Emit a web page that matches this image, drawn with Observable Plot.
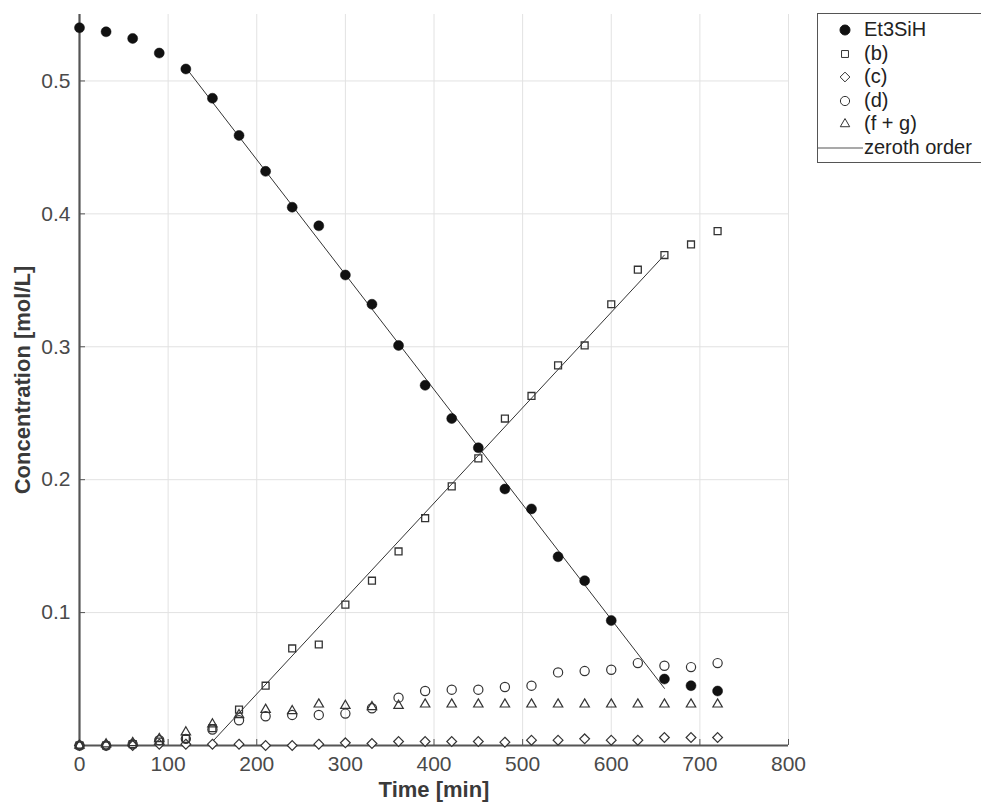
<!DOCTYPE html>
<html><head><meta charset="utf-8">
<script src="https://cdn.jsdelivr.net/npm/d3@7"></script>
<script src="https://cdn.jsdelivr.net/npm/@observablehq/plot@0.6"></script>
<style>
body{margin:0;background:#fff;}
#wrap{position:relative;width:981px;height:803px;overflow:hidden;font-family:"Liberation Sans",Arial,Helvetica,sans-serif;}
#legend{position:absolute;left:817px;top:13px;width:200px;height:150px;border:1px solid #555;background:#fff;box-sizing:border-box;padding-top:4px;}
.li{position:relative;height:23.5px;line-height:23.5px;font-size:20px;color:#222;white-space:nowrap;}
.li svg{position:absolute;left:0;top:0;}
.li span{position:absolute;left:46px;top:0;}
</style></head>
<body><div id="wrap"><div id="legend"></div></div>
<script>
// --- data ---
const time   = [0,30,60,90,120,150,180,210,240,270,300,330,360,390,420,450,480,510,540,570,600,630,660,690,720];
const et3sih = [0.540,0.537,0.532,0.521,0.509,0.487,0.459,0.432,0.405,0.391,0.354,0.332,0.301,0.271,0.246,0.224,0.193,0.178,0.142,0.124,0.094,null,0.050,0.045,0.041];
const seriesB = [0,0,0.001,0.003,0.005,0.013,0.027,0.045,0.073,0.076,0.106,0.124,0.146,0.171,0.195,0.216,0.246,0.263,0.286,0.301,0.332,0.358,0.369,0.377,0.387];
const seriesC = [0,0,0,0.001,0.001,0.001,0.001,0,0,0.001,0.002,0.0015,0.003,0.003,0.003,0.003,0.0025,0.004,0.004,0.005,0.004,0.004,0.006,0.006,0.006];
const seriesD = [0,0,0.001,0.004,0.005,0.012,0.019,0.022,0.023,0.023,0.024,0.028,0.036,0.041,0.042,0.042,0.044,0.045,0.055,0.056,0.057,0.062,0.060,0.059,0.062];
const seriesFG = [0,0.001,0.002,0.005,0.010,0.016,0.023,0.027,0.026,0.031,0.030,0.029,0.030,0.031,0.031,0.031,0.031,0.031,0.031,0.031,0.031,0.031,0.031,0.031,0.031];
// zeroth-order fits (end points)
const fitEtTime = [120, 660];
const fitEtConc = [0.510, 0.043];
const fitBTime  = [146, 660];
const fitBConc  = [0, 0.369];
// ticks
const xTicks = [0,100,200,300,400,500,600,700,800];
const yTicks = [0.1,0.2,0.3,0.4,0.5];
const legendLabels = ["Et3SiH","(b)","(c)","(d)","(f + g)","zeroth order"];

const rows = time.map((t,i)=>({t, et:et3sih[i], b:seriesB[i], c:seriesC[i], d:seriesD[i], fg:seriesFG[i]}));
const fitEt = fitEtTime.map((t,i)=>({t, v:fitEtConc[i]}));
const fitB  = fitBTime.map((t,i)=>({t, v:fitBConc[i]}));

const ink = "#333";
const mk = {
  b:  {symbol:"square",   r:3.9},
  c:  {symbol:"diamond2", r:4.4},
  d:  {symbol:"circle",   r:4.6},
  fg: {symbol:"triangle", r:3.5},
  et: {symbol:"circle",   r:5}
};

const chart = Plot.plot({
  width: 981, height: 803,
  marginLeft: 79, marginRight: 193, marginTop: 14, marginBottom: 58,
  style: {fontFamily: '"Liberation Sans", Arial, Helvetica, sans-serif', background: "#fff", color: "#4a4a4a"},
  x: {domain: [0, 800]},
  y: {domain: [0, 0.55]},
  marks: [
    Plot.gridX(xTicks.slice(1), {stroke: "#e2e2e2", strokeOpacity: 1}),
    Plot.gridY(yTicks, {stroke: "#e2e2e2", strokeOpacity: 1}),
    Plot.axisX(xTicks, {tickSize: -6, tickPadding: 17, fontSize: 21, label: null, tickFormat: d => String(d), stroke: "#555"}),
    Plot.axisY(yTicks, {tickSize: -6, tickPadding: 15, fontSize: 21, label: null, tickFormat: d3.format(".1f"), stroke: "#555"}),
    Plot.ruleX([0], {stroke: "#555", strokeWidth: 2.2}),
    Plot.ruleY([0], {stroke: "#555", strokeWidth: 2.2}),
    Plot.text(["Time [min]"], {frameAnchor: "bottom", dy: 44, fontSize: 22, fontWeight: "bold", fill: "#3a3a3a", lineAnchor: "middle", textAnchor: "middle"}),
    Plot.text(["Concentration [mol/L]"], {frameAnchor: "left", dx: -57, rotate: -90, fontSize: 22, fontWeight: "bold", fill: "#3a3a3a", lineAnchor: "middle", textAnchor: "middle"}),
    Plot.line(fitEt, {x: "t", y: "v", stroke: ink, strokeWidth: 1}),
    Plot.line(fitB, {x: "t", y: "v", stroke: ink, strokeWidth: 1}),
    Plot.dot(rows, {x: "t", y: "c", ...mk.c, stroke: ink, fill: "#fff", strokeWidth: 1.2}),
    Plot.dot(rows, {x: "t", y: "fg", ...mk.fg, stroke: ink, fill: "none", strokeWidth: 1.2}),
    Plot.dot(rows, {x: "t", y: "d", ...mk.d, stroke: ink, fill: "none", strokeWidth: 1.2}),
    Plot.dot(rows, {x: "t", y: "b", ...mk.b, stroke: ink, fill: "none", strokeWidth: 1.3}),
    Plot.dot(rows, {x: "t", y: "et", ...mk.et, fill: "#111", stroke: "#111", strokeWidth: 0.5})
  ]
});
const wrap = document.getElementById("wrap");
wrap.insertBefore(chart, wrap.firstChild);

// legend
const symMap = {circle: d3.symbolCircle, square: d3.symbolSquare, diamond2: d3.symbolDiamond2, triangle: d3.symbolTriangle};
const legendKeys = ["et","b","c","d","fg","line"];
const leg = document.getElementById("legend");
legendKeys.forEach((k, i) => {
  const div = document.createElement("div");
  div.className = "li";
  let svg;
  if (k === "line") {
    svg = `<svg width="46" height="24"><line x1="0" x2="45" y1="12" y2="12" stroke="#555" stroke-width="1.2"/></svg>`;
  } else {
    const m = mk[k];
    const p = d3.symbol(symMap[m.symbol], Math.PI * m.r * m.r)();
    const fill = k === "et" ? "#111" : "none";
    svg = `<svg width="46" height="24"><path transform="translate(27,12)" d="${p}" fill="${fill}" stroke="${k==='et'?'#111':ink}" stroke-width="1"/></svg>`;
  }
  div.innerHTML = svg + `<span>${legendLabels[i]}</span>`;
  leg.appendChild(div);
});
</script>
</body></html>
